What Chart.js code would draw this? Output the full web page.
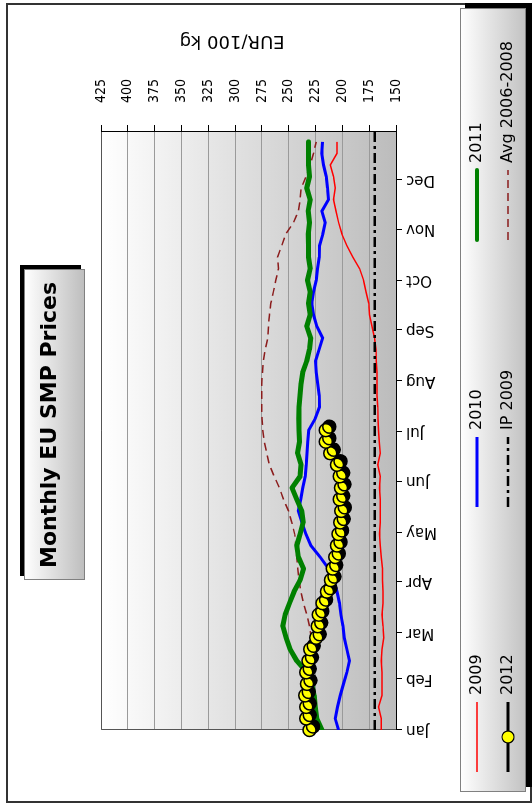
<!DOCTYPE html>
<html>
<head>
<meta charset="utf-8">
<title>Monthly EU SMP Prices</title>
<script src="https://cdn.jsdelivr.net/npm/chart.js@4.4.1/dist/chart.umd.min.js"></script>
<style>
  html, body { margin: 0; padding: 0; background: #fff; width: 532px; height: 803px; overflow: hidden; }
  /* chart is laid out landscape, then turned a quarter turn to the left */
  #wrap {
    position: absolute; left: 0; top: 0;
    width: 803px; height: 532px;
    transform-origin: 0 0;
    transform: translateY(803px) rotate(-90deg);
  }
</style>
</head>
<body>
<div id="wrap"><canvas id="smpChart" width="803" height="532"></canvas></div>
<script>
// Month tick labels and the day of year each month starts on
const monthLabels = ['Jan', 'Feb', 'Mar', 'Apr', 'May', 'Jun', 'Jul', 'Aug', 'Sep', 'Oct', 'Nov', 'Dec'];
const monthStartDays = [0, 31, 59, 90, 120, 151, 181, 212, 243, 273, 304, 334];
const lastDay = 363;

// Value axis (EUR/100 kg)
const valueMin = 150;
const valueMax = 425;
const valueStep = 25;

// Weekly SMP prices (week 0 = first week of January)
const prices2009 = [163.7, 163.7, 166.2, 163.1, 163.1, 163.1, 163.7, 163.1, 161.5, 162.1,
  163.1, 162.1, 162.1, 162.5, 162.5, 163.7, 164.6, 165.3, 164.6, 164.6,
  164.6, 165.3, 164.6, 167.1, 164.6, 165.6, 166.2, 166.8, 167.1, 167.7,
  167.7, 167.7, 168.4, 168.7, 170.0, 172.4, 174.6, 175.5, 178.0, 180.2,
  183.9, 190.2, 195.8, 200.4, 203.5, 206.0, 208.2, 206.7, 208.2, 211.3,
  205.1, 205.1];
const prices2010 = [203.5, 206.7, 204.5, 202.0, 198.9, 195.8, 193.3, 195.8, 198.3, 199.5,
  201.4, 202.6, 205.0, 208.3, 212.9, 220.7, 229.4, 234.0, 237.8, 241.0,
  238.8, 237.0, 234.7, 233.7, 233.0, 232.2, 231.3, 225.3, 221.3, 221.6,
  222.9, 224.4, 225.0, 221.6, 218.4, 223.8, 226.9, 228.5, 226.9, 224.4,
  223.1, 221.6, 221.3, 218.2, 216.0, 219.1, 212.9, 213.8, 215.0, 217.6,
  219.1, 218.5];
const prices2011 = [219.1, 223.8, 225.3, 226.3, 228.5, 233.0, 242.5, 248.7, 252.4, 255.5,
  253.4, 249.3, 245.0, 239.4, 236.2, 241.0, 242.5, 239.4, 236.5, 237.8,
  242.5, 247.0, 239.4, 238.5, 241.8, 240.0, 240.4, 240.7, 240.4, 239.4,
  238.5, 237.0, 233.2, 230.7, 229.5, 233.2, 230.0, 231.6, 230.0, 232.5,
  230.0, 231.6, 231.6, 231.9, 230.6, 231.9, 230.0, 233.2, 230.6, 231.6,
  231.6, 231.6];
const prices2012 = [230.6, 233.7, 233.7, 234.7, 233.0, 233.7, 231.6, 230.0, 224.4, 223.0,
  222.0, 218.5, 214.4, 210.7, 209.0, 206.6, 205.0, 203.5, 202.0, 201.0,
  202.5, 201.3, 202.5, 205.0, 211.3, 215.4, 215.4];
const pricesAvg0608 = [230.0, 230.5, 231.0, 231.0, 231.0, 230.5, 230.0, 229.5, 229.0, 230.6,
  233.1, 236.2, 238.7, 240.3, 241.5, 242.5, 243.4, 244.5, 247.1, 250.2,
  254.9, 258.7, 263.6, 268.0, 270.5, 272.7, 274.2, 274.8, 275.2, 275.2,
  275.2, 274.5, 273.6, 272.0, 269.5, 268.9, 268.0, 266.7, 264.3, 262.1,
  259.6, 260.5, 256.5, 252.7, 245.6, 240.9, 239.4, 238.4, 233.8, 230.0,
  226.9, 224.4];
const interventionPrice2009 = 169.8;

// Turn a weekly series into {x: day of year, y: price} points
function weekly(values) {
  return values.map((v, i) => ({ x: i * 7, y: v }));
}

const FONT = 'DejaVu Sans';
const TICK_FONT = '"DejaVu Sans Condensed", "DejaVu Sans"';

const datasets = [
  { label: '2009', data: weekly(prices2009), borderColor: '#ff0000', borderWidth: 1.5, order: 4 },
  { label: '2010', data: weekly(prices2010), borderColor: '#0000ff', borderWidth: 3, order: 3 },
  { label: '2011', data: weekly(prices2011), borderColor: '#008000', borderWidth: 5, order: 2,
    borderJoinStyle: 'round', borderCapStyle: 'round' },
  { label: '2012', data: weekly(prices2012), borderColor: '#000000', borderWidth: 3, order: 0,
    pointRadius: 6.5, pointBackgroundColor: '#ffff00', pointBorderColor: '#000000', pointBorderWidth: 1.5,
    clip: false },
  { label: 'IP 2009', data: [{ x: 0, y: interventionPrice2009 }, { x: lastDay, y: interventionPrice2009 }],
    borderColor: '#000000', borderWidth: 2.5, borderDash: [10, 4, 3, 4], order: 1 },
  { label: 'Avg 2006-2008', data: weekly(pricesAvg0608), borderColor: '#8b1c1c', borderWidth: 1.5,
    borderDash: [8, 5], order: 5 }
];
datasets.forEach(ds => {
  if (ds.pointRadius === undefined) ds.pointRadius = 0;
  ds.fill = false;
  ds.tension = 0;
});

// Background, frames, title box, axis title and legend
const decorPlugin = {
  id: 'decor',
  beforeDraw(chart) {
    const { ctx, chartArea: a } = chart;
    ctx.save();
    ctx.fillStyle = '#ffffff';
    ctx.fillRect(0, 0, chart.width, chart.height);
    // outer frame
    ctx.strokeStyle = '#333333';
    ctx.lineWidth = 2;
    ctx.strokeRect(1, 7, 798, 524);
    // plot area shading, light at the top, grey at the bottom
    const g = ctx.createLinearGradient(0, a.top, 0, a.bottom);
    g.addColorStop(0, '#ffffff');
    g.addColorStop(1, '#bcbcbc');
    ctx.fillStyle = g;
    ctx.fillRect(a.left, a.top, a.right - a.left, a.bottom - a.top);
    ctx.restore();
  },
  beforeDatasetsDraw(chart) {
    const { ctx, chartArea: a } = chart;
    ctx.save();
    ctx.strokeStyle = '#555555';
    ctx.lineWidth = 1;
    ctx.beginPath();
    ctx.moveTo(a.left + 0.5, a.bottom);
    ctx.lineTo(a.left + 0.5, a.top + 0.5);
    ctx.lineTo(a.right, a.top + 0.5);
    ctx.stroke();
    ctx.restore();
  },
  // drop shadow under the 2012 markers
  beforeDatasetDraw(chart, args) {
    if (chart.data.datasets[args.index].label !== '2012') return;
    const ctx = chart.ctx;
    ctx.save();
    ctx.shadowColor = '#000000';
    ctx.shadowOffsetX = 3.5;
    ctx.shadowOffsetY = 3.5;
    ctx.shadowBlur = 0;
  },
  afterDatasetDraw(chart, args) {
    if (chart.data.datasets[args.index].label !== '2012') return;
    chart.ctx.restore();
  },
  afterDraw(chart) {
    const ctx = chart.ctx;
    ctx.save();

    // title box
    ctx.fillStyle = '#000000';
    ctx.fillRect(227, 20, 311, 61);
    let g = ctx.createLinearGradient(0, 24, 0, 85);
    g.addColorStop(0, '#ffffff');
    g.addColorStop(1, '#bdbdbd');
    ctx.fillStyle = g;
    ctx.fillRect(223, 24, 311, 61);
    ctx.strokeStyle = '#808080';
    ctx.lineWidth = 1;
    ctx.strokeRect(223.5, 24.5, 310, 60);
    ctx.fillStyle = '#000000';
    ctx.font = 'bold 22px "' + FONT + '"';
    ctx.textAlign = 'center';
    ctx.textBaseline = 'middle';
    ctx.fillText('Monthly EU SMP Prices', 378, 50);

    // value axis title, on the right side reading upwards
    ctx.save();
    ctx.translate(762, 232);
    ctx.rotate(-Math.PI / 2);
    ctx.font = '18px "' + FONT + '"';
    ctx.fillText('EUR/100 kg', 0, 0);
    ctx.restore();

    // legend box
    ctx.fillStyle = '#000000';
    ctx.fillRect(16, 465, 784, 67);
    g = ctx.createLinearGradient(0, 460, 0, 526);
    g.addColorStop(0, '#ffffff');
    g.addColorStop(1, '#c2c2c2');
    ctx.fillStyle = g;
    ctx.fillRect(11, 460, 784, 66);
    ctx.strokeStyle = '#808080';
    ctx.strokeRect(11.5, 460.5, 783, 65);

    const slots = [[31, 477], [296, 477], [563, 477], [31, 508], [296, 508], [563, 508]];
    chart.data.datasets.forEach((ds, i) => {
      const [x0, y] = slots[i];
      ctx.save();
      ctx.strokeStyle = ds.borderColor;
      ctx.lineWidth = ds.label === '2011' ? 4 : ds.borderWidth;
      ctx.lineCap = ds.label === '2011' ? 'round' : 'butt';
      ctx.setLineDash(ds.borderDash || []);
      ctx.beginPath();
      ctx.moveTo(x0, y);
      ctx.lineTo(x0 + 70, y);
      ctx.stroke();
      if (ds.pointRadius > 0) {
        ctx.setLineDash([]);
        ctx.beginPath();
        ctx.arc(x0 + 35, y, 6, 0, Math.PI * 2);
        ctx.fillStyle = ds.pointBackgroundColor;
        ctx.fill();
        ctx.lineWidth = 1.2;
        ctx.strokeStyle = '#000000';
        ctx.stroke();
      }
      ctx.restore();
      ctx.fillStyle = '#000000';
      ctx.font = '16px "' + FONT + '"';
      ctx.textAlign = 'left';
      ctx.textBaseline = 'middle';
      ctx.fillText(ds.label, x0 + 77, y);
    });

    ctx.restore();
  }
};

const ctx = document.getElementById('smpChart').getContext('2d');
const smpChart = new Chart(ctx, {
  type: 'line',
  data: { datasets: datasets },
  options: {
    responsive: false,
    animation: false,
    devicePixelRatio: 1,
    layout: { padding: { left: 73, top: 101, right: 0, bottom: 0 } },
    plugins: {
      legend: { display: false },
      title: { display: false },
      tooltip: { enabled: false }
    },
    scales: {
      x: {
        type: 'linear',
        position: 'bottom',
        min: 0,
        max: lastDay,
        afterBuildTicks: scale => {
          scale.ticks = monthStartDays.map(d => ({ value: d }));
        },
        afterFit: scale => { scale.height = 136; },
        grid: { display: true, drawOnChartArea: false, drawTicks: true, tickLength: 6, tickColor: '#000000' },
        border: { display: true, color: '#000000', width: 1 },
        ticks: {
          autoSkip: false,
          minRotation: 90,
          maxRotation: 90,
          padding: 4,
          color: '#000000',
          font: { family: FONT, size: 15 },
          callback: (value, index) => monthLabels[index]
        }
      },
      y: {
        position: 'right',
        min: valueMin,
        max: valueMax,
        afterFit: scale => { scale.width = 132; },
        grid: { color: '#9a9a9a', lineWidth: 1, tickLength: 7, tickColor: '#000000' },
        border: { display: true, color: '#000000', width: 1 },
        ticks: {
          stepSize: valueStep,
          padding: 22,
          color: '#000000',
          font: { family: TICK_FONT, size: 14 }
        }
      }
    }
  },
  plugins: [decorPlugin]
});
</script>
</body>
</html>
